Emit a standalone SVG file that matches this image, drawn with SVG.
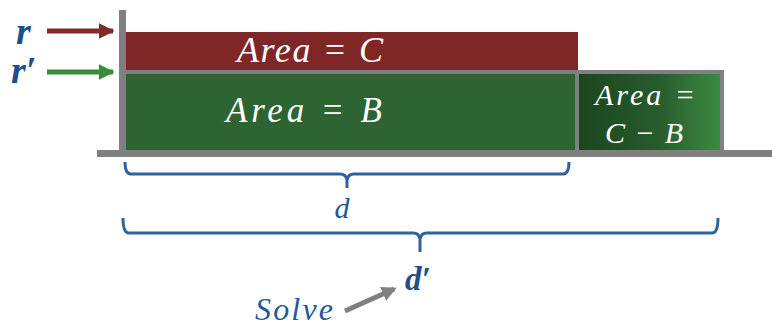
<svg xmlns="http://www.w3.org/2000/svg" width="772" height="326" viewBox="0 0 772 326">
<style>
.wt{fill:#ffffff;font-family:"Liberation Serif",serif;font-style:italic}
.bl{fill:#2357A0;font-family:"Liberation Serif",serif;font-style:italic}
.blb{fill:#1F4E8F;font-family:"Liberation Serif",serif;font-style:italic;font-weight:bold}
.br{fill:none;stroke:#2E62A3;stroke-width:3;stroke-linejoin:round}
</style>
<defs>
<linearGradient id="g1" x1="0" y1="0" x2="1" y2="0">
<stop offset="0" stop-color="#1B451E"/>
<stop offset="0.55" stop-color="#275B2C"/>
<stop offset="1" stop-color="#3D8A42"/>
</linearGradient>
<marker id="ar" viewBox="0 0 10 10" refX="9" refY="5" markerWidth="3.2" markerHeight="3.6" orient="auto" markerUnits="strokeWidth"><path d="M0,0 L10,5 L0,10 z" fill="#842828"/></marker>
<marker id="ag" viewBox="0 0 10 10" refX="9" refY="5" markerWidth="3.2" markerHeight="3.6" orient="auto" markerUnits="strokeWidth"><path d="M0,0 L10,5 L0,10 z" fill="#3A8A3C"/></marker>
<marker id="ay" viewBox="0 0 10 10" refX="8" refY="5" markerWidth="3" markerHeight="3" orient="auto" markerUnits="strokeWidth"><path d="M0,0 L10,5 L0,10 z" fill="#808080"/></marker>
</defs>
<g id="area-c">
<rect x="125" y="32" width="453" height="40" fill="#7F2626"/>
<text class="wt" x="310" y="62" font-size="36" text-anchor="middle" textLength="146" lengthAdjust="spacing">Area = C</text>
</g>
<g id="area-b">
<rect x="122" y="72" width="455" height="81" fill="#2E6332" stroke="#808080" stroke-width="4"/>
<text class="wt" x="304" y="122" font-size="35" text-anchor="middle" textLength="156" lengthAdjust="spacing">Area = B</text>
</g>
<g id="area-cb">
<rect x="577" y="72" width="145" height="81" fill="url(#g1)" stroke="#808080" stroke-width="4"/>
<text class="wt" x="645" y="105" font-size="30" text-anchor="middle" textLength="100" lengthAdjust="spacing">Area =</text>
<text class="wt" x="644" y="143" font-size="30" text-anchor="middle" textLength="78" lengthAdjust="spacing">C − B</text>
</g>
<g id="axes">
<rect x="119" y="10" width="7" height="146" fill="#808080"/>
<rect x="97" y="150" width="675" height="7" fill="#808080"/>
</g>
<g id="labels">
<text class="blb" x="16" y="44" font-size="38">r</text>
<text class="blb" x="11" y="83" font-size="38">r′</text>
<text class="bl" x="342" y="218" font-size="30" text-anchor="middle">d</text>
<text class="blb" x="418" y="290" font-size="33" text-anchor="middle">d′</text>
<text class="bl" x="294" y="320" font-size="32" text-anchor="middle" textLength="78" lengthAdjust="spacing">Solve</text>
</g>
<g id="connectors">
<line x1="47" y1="31" x2="113" y2="31" stroke="#842828" stroke-width="5" marker-end="url(#ar)"/>
<line x1="47" y1="72" x2="113" y2="72" stroke="#3A8A3C" stroke-width="5" marker-end="url(#ag)"/>
<line x1="345" y1="311" x2="394" y2="289" stroke="#808080" stroke-width="5" marker-end="url(#ay)"/>
<path class="br" d="M125,162 Q125,174 131,174 L340,174 Q346,174 347,180 L347,188 M347,180 Q348,174 354,174 L563,174 Q569,174 569,162"/>
<path class="br" d="M123,218 Q123,233 129,233 L413,233 Q419,233 420,239 L420,252 M420,239 Q421,233 427,233 L712,233 Q718,233 718,218"/>
</g>
</svg>
